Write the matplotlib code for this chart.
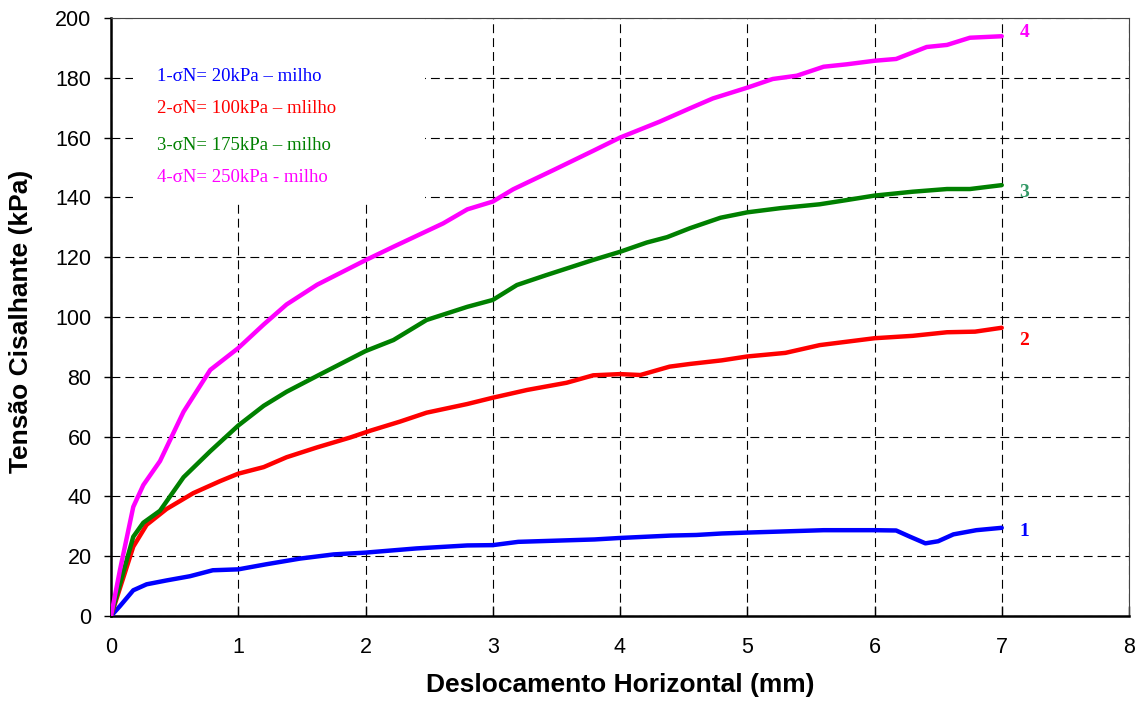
import matplotlib.pyplot as plt
from matplotlib.patches import Rectangle

# Ensaios de cisalhamento direto - milho
# Deslocamento horizontal (mm) x tensao cisalhante (kPa) para 4 tensoes normais

x1 = [0, 0.07, 0.175, 0.28, 0.437, 0.62, 0.8, 1.0, 1.22, 1.485, 1.75, 2.0, 2.4, 2.8, 3.0, 3.2,
      3.8, 4.0, 4.4, 4.6, 4.8, 5.0, 5.3, 5.6, 6.0, 6.17, 6.28, 6.4, 6.5, 6.62, 6.8, 7.0]
y1 = [0, 3.3, 8.6, 10.6, 11.9, 13.3, 15.3, 15.6, 17.3, 19.2, 20.6, 21.2, 22.6, 23.6, 23.7, 24.8,
      25.6, 26.1, 26.9, 27.1, 27.6, 27.9, 28.3, 28.7, 28.7, 28.6, 26.5, 24.3, 25.0, 27.3, 28.7, 29.5]

x2 = [0, 0.175, 0.28, 0.437, 0.647, 0.857, 1.0, 1.2, 1.38, 1.62, 1.88, 2.04, 2.27, 2.48, 2.8, 3.0,
      3.27, 3.58, 3.79, 4.0, 4.16, 4.39, 4.55, 4.8, 5.0, 5.3, 5.57, 6.0, 6.3, 6.57, 6.79, 7.0]
y2 = [0, 23.2, 30.5, 35.8, 41.1, 45.1, 47.6, 49.8, 53.1, 56.4, 59.7, 62.0, 65.0, 68.0, 70.9, 73.0,
      75.6, 78.0, 80.5, 80.9, 80.6, 83.4, 84.3, 85.5, 86.8, 88.0, 90.6, 92.9, 93.7, 94.9, 95.1, 96.4]

x3 = [0, 0.175, 0.254, 0.385, 0.57, 0.78, 1.0, 1.2, 1.38, 1.62, 2.0, 2.22, 2.48, 2.8, 3.0, 3.19,
      3.42, 3.79, 4.0, 4.21, 4.37, 4.55, 4.79, 5.0, 5.26, 5.57, 5.78, 6.0, 6.3, 6.57, 6.75, 7.0]
y3 = [0, 26.5, 31.2, 35.2, 46.4, 55.1, 63.7, 70.3, 75.0, 80.3, 88.6, 92.3, 99.0, 103.4, 105.7, 110.7,
      114.0, 119.1, 121.8, 124.9, 126.7, 129.7, 133.2, 135.0, 136.4, 137.7, 139.1, 140.6, 141.9, 142.8,
      142.8, 144.1]

x4 = [0, 0.07, 0.175, 0.254, 0.385, 0.57, 0.78, 1.0, 1.2, 1.38, 1.62, 2.0, 2.22, 2.61, 2.8, 3.0,
      3.16, 3.48, 3.79, 4.0, 4.31, 4.55, 4.73, 5.0, 5.2, 5.39, 5.6, 5.78, 6.0, 6.17, 6.41, 6.57, 6.75, 7.0]
y4 = [0, 15.3, 36.5, 43.8, 51.8, 68.3, 82.3, 89.6, 97.5, 104.2, 110.8, 119.0, 123.5, 131.3, 136.0, 138.6,
      142.7, 149.2, 155.6, 160.0, 165.3, 169.8, 173.1, 176.7, 179.6, 180.7, 183.7, 184.5, 185.7, 186.3,
      190.3, 191.0, 193.4, 193.9]

legendas = ['1-σN= 20kPa – milho', '2-σN= 100kPa – mlilho',
            '3-σN= 175kPa – milho', '4-σN= 250kPa - milho']
cores = ['#0000ff', '#ff0000', '#008000', '#ff00ff']
cores_num = ['#0000ff', '#ff0000', '#339966', '#ff00ff']
numeros = ['1', '2', '3', '4']

plt.rcParams['font.family'] = ['Liberation Sans', 'DejaVu Sans']

fig = plt.figure(figsize=(11.4, 7.11), dpi=100)
ax = fig.add_axes([111 / 1140, 1 - 616 / 711, 1018 / 1140, 598 / 711])

series = [(x1, y1), (x2, y2), (x3, y3), (x4, y4)]
for (xs, ys), c in zip(series, cores):
    ax.plot(xs, ys, color=c, lw=3.2, solid_capstyle='round', solid_joinstyle='round', zorder=3)

ax.set_xlim(0, 8)
ax.set_ylim(0, 200)
ax.set_xticks(range(0, 9))
ax.set_yticks(range(0, 201, 20))

ax.set_axisbelow(True)
ax.grid(True, color='black', lw=0.8, linestyle=(0, (8, 4.5)))

# fundo branco atras das legendas
ax.add_patch(Rectangle((0.17, 138.5), 2.3, 61.5, facecolor='white', edgecolor='none', zorder=1))

leg_y = [180.5, 169.6, 157.5, 146.5]
for txt, c, yy in zip(legendas, cores, leg_y):
    ax.text(0.36, yy, txt, color=c, fontsize=13.5, family=['Liberation Serif', 'DejaVu Serif'],
            va='center', ha='left', zorder=4)

num_y = [28.1, 92.3, 141.5, 195.3]
for n, c, yy in zip(numeros, cores_num, num_y):
    ax.text(7.14, yy, n, color=c, fontsize=14, fontweight='bold',
            family=['Liberation Serif', 'DejaVu Serif'], va='center', ha='left', zorder=4)

ax.tick_params(axis='x', direction='in', length=7, width=1, pad=15, labelsize=15.5)
ax.tick_params(axis='y', direction='out', length=5, width=1, pad=9, labelsize=15.5)

for s in ['left', 'bottom']:
    ax.spines[s].set_linewidth(1.8)
for s in ['top', 'right']:
    ax.spines[s].set_linewidth(0.8)
    ax.spines[s].set_color('#444444')

ax.set_xlabel('Deslocamento Horizontal (mm)', fontsize=19, fontweight='bold')
ax.set_ylabel('Tensão Cisalhante (kPa)', fontsize=19, fontweight='bold')
ax.xaxis.set_label_coords(0.5, -0.096)
ax.yaxis.set_label_coords(-0.077, 0.492)

fig.savefig('out.png', dpi=100)
